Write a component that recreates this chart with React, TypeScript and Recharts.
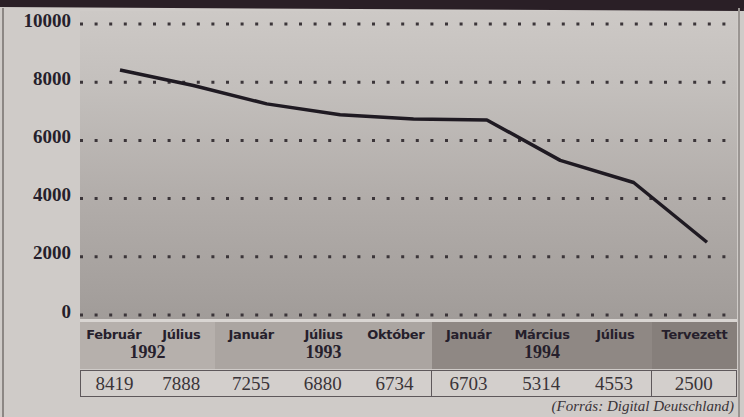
import React from "react";
import { CartesianGrid, Line, LineChart, XAxis, YAxis } from "recharts";

const months = ["Február", "Július", "Január", "Július", "Október", "Január", "Március", "Július", "Tervezett"];
const years = ["1992", "1992", "1993", "1993", "1993", "1994", "1994", "1994", ""];
const values = [8419, 7888, 7255, 6880, 6734, 6703, 5314, 4553, 2500];
const yTicks = [0, 2000, 4000, 6000, 8000, 10000];
const source = "(Forrás: Digital Deutschland)";

const data = months.map((m, i) => ({ key: `${m}-${years[i] || "T"}`, value: values[i] }));

// column groups of the table under the plot
const groups: { year: string; start: number; count: number }[] = [];
years.forEach((y, i) => {
  const last = groups[groups.length - 1];
  if (last && last.year === y) last.count += 1;
  else groups.push({ year: y, start: i, count: 1 });
});

const groupEdges = [80, 215, 432, 652, 737];
const headerBg = ["#b6b0ac", "#aba5a1", "#8f8884", "#867f7b"];

const ink = "#261f2c";

function YTick(props: any) {
  const { x, y, payload } = props;
  return (
    <text
      x={x}
      y={y - 4}
      textAnchor="end"
      dominantBaseline="central"
      fontFamily="'Liberation Serif', serif"
      fontWeight="bold"
      fontSize={19}
      fill={ink}
    >
      {String(payload.value)}
    </text>
  );
}

export default function App() {
  return (
    <div
      style={{
        position: "absolute",
        left: 0,
        top: 0,
        width: 744,
        height: 417,
        overflow: "hidden",
        background: "#cfcbc8",
      }}
    >
      {/* title band, cut off at the top */}
      <div
        style={{
          position: "absolute",
          left: 0,
          top: -4,
          width: 744,
          height: 13,
          background: "#2a1f26",
          transform: "rotate(0.3deg)",
        }}
      />
      <div style={{ position: "absolute", left: 2, top: 8, width: 2, height: 409, background: "#8c8784" }} />
      <div style={{ position: "absolute", left: 738, top: 8, width: 2, height: 409, background: "#9a9592" }} />

      {/* plot background */}
      <div
        style={{
          position: "absolute",
          left: 80,
          top: 11,
          width: 657,
          height: 308,
          background: "linear-gradient(180deg, #cdc9c6 0%, #c3bfbc 25%, #b2adaa 60%, #a19c99 100%)",
        }}
      />

      <div style={{ position: "absolute", left: 0, top: 0 }}>
        <LineChart width={744} height={320} data={data} margin={{ top: 24, right: 9, left: 0, bottom: 5 }}>
          <CartesianGrid
            vertical={false}
            stroke="#3b3539"
            strokeWidth={3}
            strokeDasharray="3 11.6"
          />
          <XAxis dataKey="key" hide padding={{ left: 40, right: 28 }} />
          <YAxis
            width={80}
            domain={[0, 10000]}
            ticks={yTicks}
            interval={0}
            axisLine={false}
            tickLine={false}
            tick={<YTick />}
            tickSize={0}
            tickMargin={9}
          />
          <Line
            dataKey="value"
            stroke="#1f1a22"
            strokeWidth={3.5}
            dot={false}
            isAnimationActive={false}
            strokeLinejoin="round"
          />
        </LineChart>
      </div>

      {/* table below the plot */}
      <div style={{ position: "absolute", left: 80, top: 319, width: 657, height: 3, background: "#d9d5d2" }} />
      {groups.map((g, gi) => {
        const left = groupEdges[gi];
        const width = groupEdges[gi + 1] - left;
        return (
          <React.Fragment key={gi}>
            <div
              style={{
                position: "absolute",
                left,
                top: 322,
                width,
                height: 47,
                background: headerBg[gi],
              }}
            >
              <div style={{ display: "flex", marginTop: 5 }}>
                {months.slice(g.start, g.start + g.count).map((m, i) => (
                  <div
                    key={i}
                    style={{
                      flex: 1,
                      textAlign: "center",
                      fontFamily: "'DejaVu Sans', sans-serif",
                      fontWeight: "bold",
                      fontSize: 13,
                      color: ink,
                      letterSpacing: -0.3,
                    }}
                  >
                    {m}
                  </div>
                ))}
              </div>
              {g.year && (
                <div
                  style={{
                    textAlign: "center",
                    fontFamily: "'Liberation Serif', serif",
                    fontWeight: "bold",
                    fontSize: 18,
                    color: ink,
                    marginTop: 0,
                  }}
                >
                  {g.year}
                </div>
              )}
            </div>
            <div
              style={{
                position: "absolute",
                left,
                top: 370,
                width: width - 1.5,
                height: 25,
                border: "1.5px solid #5e585b",
                borderLeftWidth: gi === 0 ? 1.5 : 0,
                background: "#d3cfcc",
                display: "flex",
                alignItems: "center",
              }}
            >
              {values.slice(g.start, g.start + g.count).map((v, i) => (
                <div
                  key={i}
                  style={{
                    flex: 1,
                    textAlign: "center",
                    fontFamily: "'Liberation Serif', serif",
                    fontSize: 19,
                    color: "#3a3438",
                  }}
                >
                  {v}
                </div>
              ))}
            </div>
          </React.Fragment>
        );
      })}

      <div
        style={{
          position: "absolute",
          right: 10,
          top: 398,
          fontFamily: "'Liberation Serif', serif",
          fontStyle: "italic",
          fontSize: 15,
          lineHeight: "17px",
          color: "#3a3438",
        }}
      >
        {source}
      </div>
    </div>
  );
}
